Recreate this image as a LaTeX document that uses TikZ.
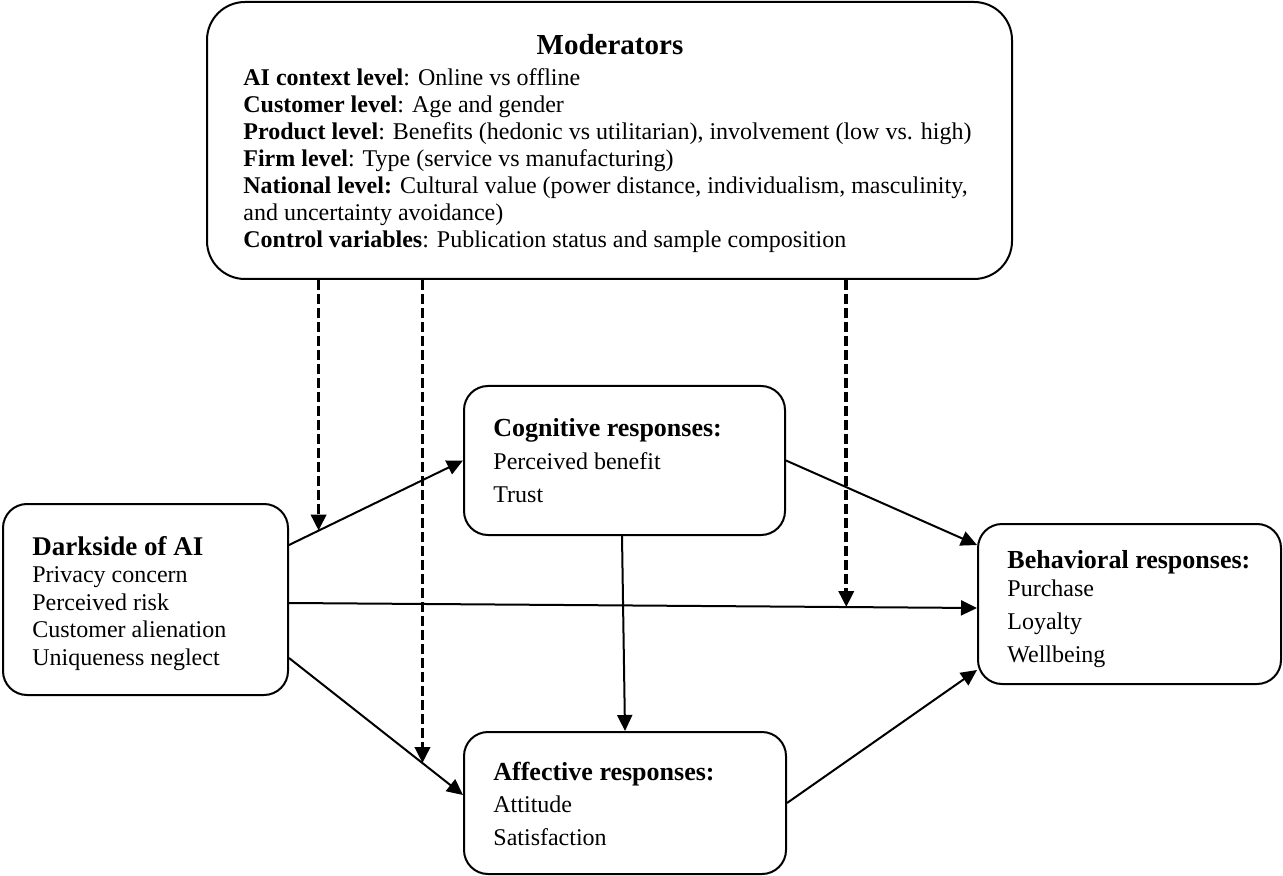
\documentclass[tikz,border=0pt]{standalone}
\usepackage{fontspec}
\setmainfont{Liberation Serif}
\usetikzlibrary{arrows.meta}

\tikzset{
  box/.style={draw, line width=1pt, rounded corners=12pt, inner sep=0pt},
  txt/.style={align=left, inner sep=0pt, anchor=base west, font=\fontsize{12}{13.75}\selectfont},
  arr/.style={->, line width=1pt},
  modarr/.style={->, line width=1.8pt, dash pattern=on 5pt off 2pt},
}

\begin{document}
\begin{tikzpicture}[x=0.5pt,y=-0.5pt,>={Triangle[length=8pt,width=7.5pt]}]
  \useasboundingbox (0,0) rectangle (1283,876);

  % boxes
  \node[box, rounded corners=19pt, minimum width=402.5pt, minimum height=138.5pt] (mod) at (609.5,140.5) {};
  \node[box, minimum width=142.5pt, minimum height=95.5pt] (dark) at (145.5,599.5) {};
  \node[box, minimum width=160.5pt, minimum height=74.5pt] (cog) at (624.5,460.5) {};
  \node[box, minimum width=161pt, minimum height=71pt] (aff) at (625,803) {};
  \node[box, minimum width=151.5pt, minimum height=80pt] (beh) at (1129.5,604) {};

  % texts (placed at the baseline of their last line)
  \node[txt, anchor=base, font=\fontsize{14.5}{16}\selectfont\bfseries] (modtitle) at (610,55) {Moderators};
  \node[txt, font=\fontsize{12}{13.5}\selectfont] (modtxt) at (243,248) {%
    \textbf{AI context level}: Online vs offline\\
    \textbf{Customer level}: Age and gender\\
    \textbf{Product level}: Benefits (hedonic vs utilitarian), involvement (low vs. high)\\
    \textbf{Firm level}: Type (service vs manufacturing)\\
    \textbf{National level:} Cultural value (power distance, individualism, masculinity,\\
    and uncertainty avoidance)\\
    \textbf{Control variables}: Publication status and sample composition};
  \node[txt] (darktxt) at (32,665) {{\fontsize{13.5}{13.5}\selectfont\bfseries Darkside of AI}\\
    Privacy concern\\Perceived risk\\Customer alienation\\Uniqueness neglect};
  \node[txt, font=\fontsize{12}{16.25}\selectfont] (cogtxt) at (493,502) {{\fontsize{13}{13}\selectfont\bfseries Cognitive responses:}\\
    Perceived benefit\\Trust};
  \node[txt, font=\fontsize{12}{16.25}\selectfont] (afftxt) at (493,845) {{\fontsize{13}{13}\selectfont\bfseries Affective responses:}\\
    Attitude\\Satisfaction};
  \node[txt, font=\fontsize{12}{16.5}\selectfont] (behtxt) at (1007,662) {{\fontsize{13}{13}\selectfont\bfseries Behavioral responses:}\\[-2.5pt]
    Purchase\\Loyalty\\Wellbeing};

  % paths
  \draw[arr] ([yshift=27.25pt]dark.east) -- coordinate[pos=0.17] (m1) (cog.west);
  \draw[arr] (cog.east) -- ([yshift=29.5pt]beh.west);
  \draw[arr] ([yshift=-1.75pt]dark.east) -- coordinate[pos=0.81] (m3) ([yshift=-2pt]beh.west);
  \draw[arr] ([yshift=-29.25pt]dark.east) -- coordinate[pos=0.767] (m2) ([yshift=4pt]aff.west);
  \draw[arr] (aff.east) -- ([yshift=-33pt]beh.west);
  \draw[arr] ([xshift=-1.25pt]cog.south) -- (aff.north);

  % moderating effects
  \draw[modarr] (mod.south -| m1) -- (m1);
  \draw[modarr] (mod.south -| m2) -- (m2);
  \draw[modarr] (mod.south -| m3) -- (m3);
\end{tikzpicture}
\end{document}
